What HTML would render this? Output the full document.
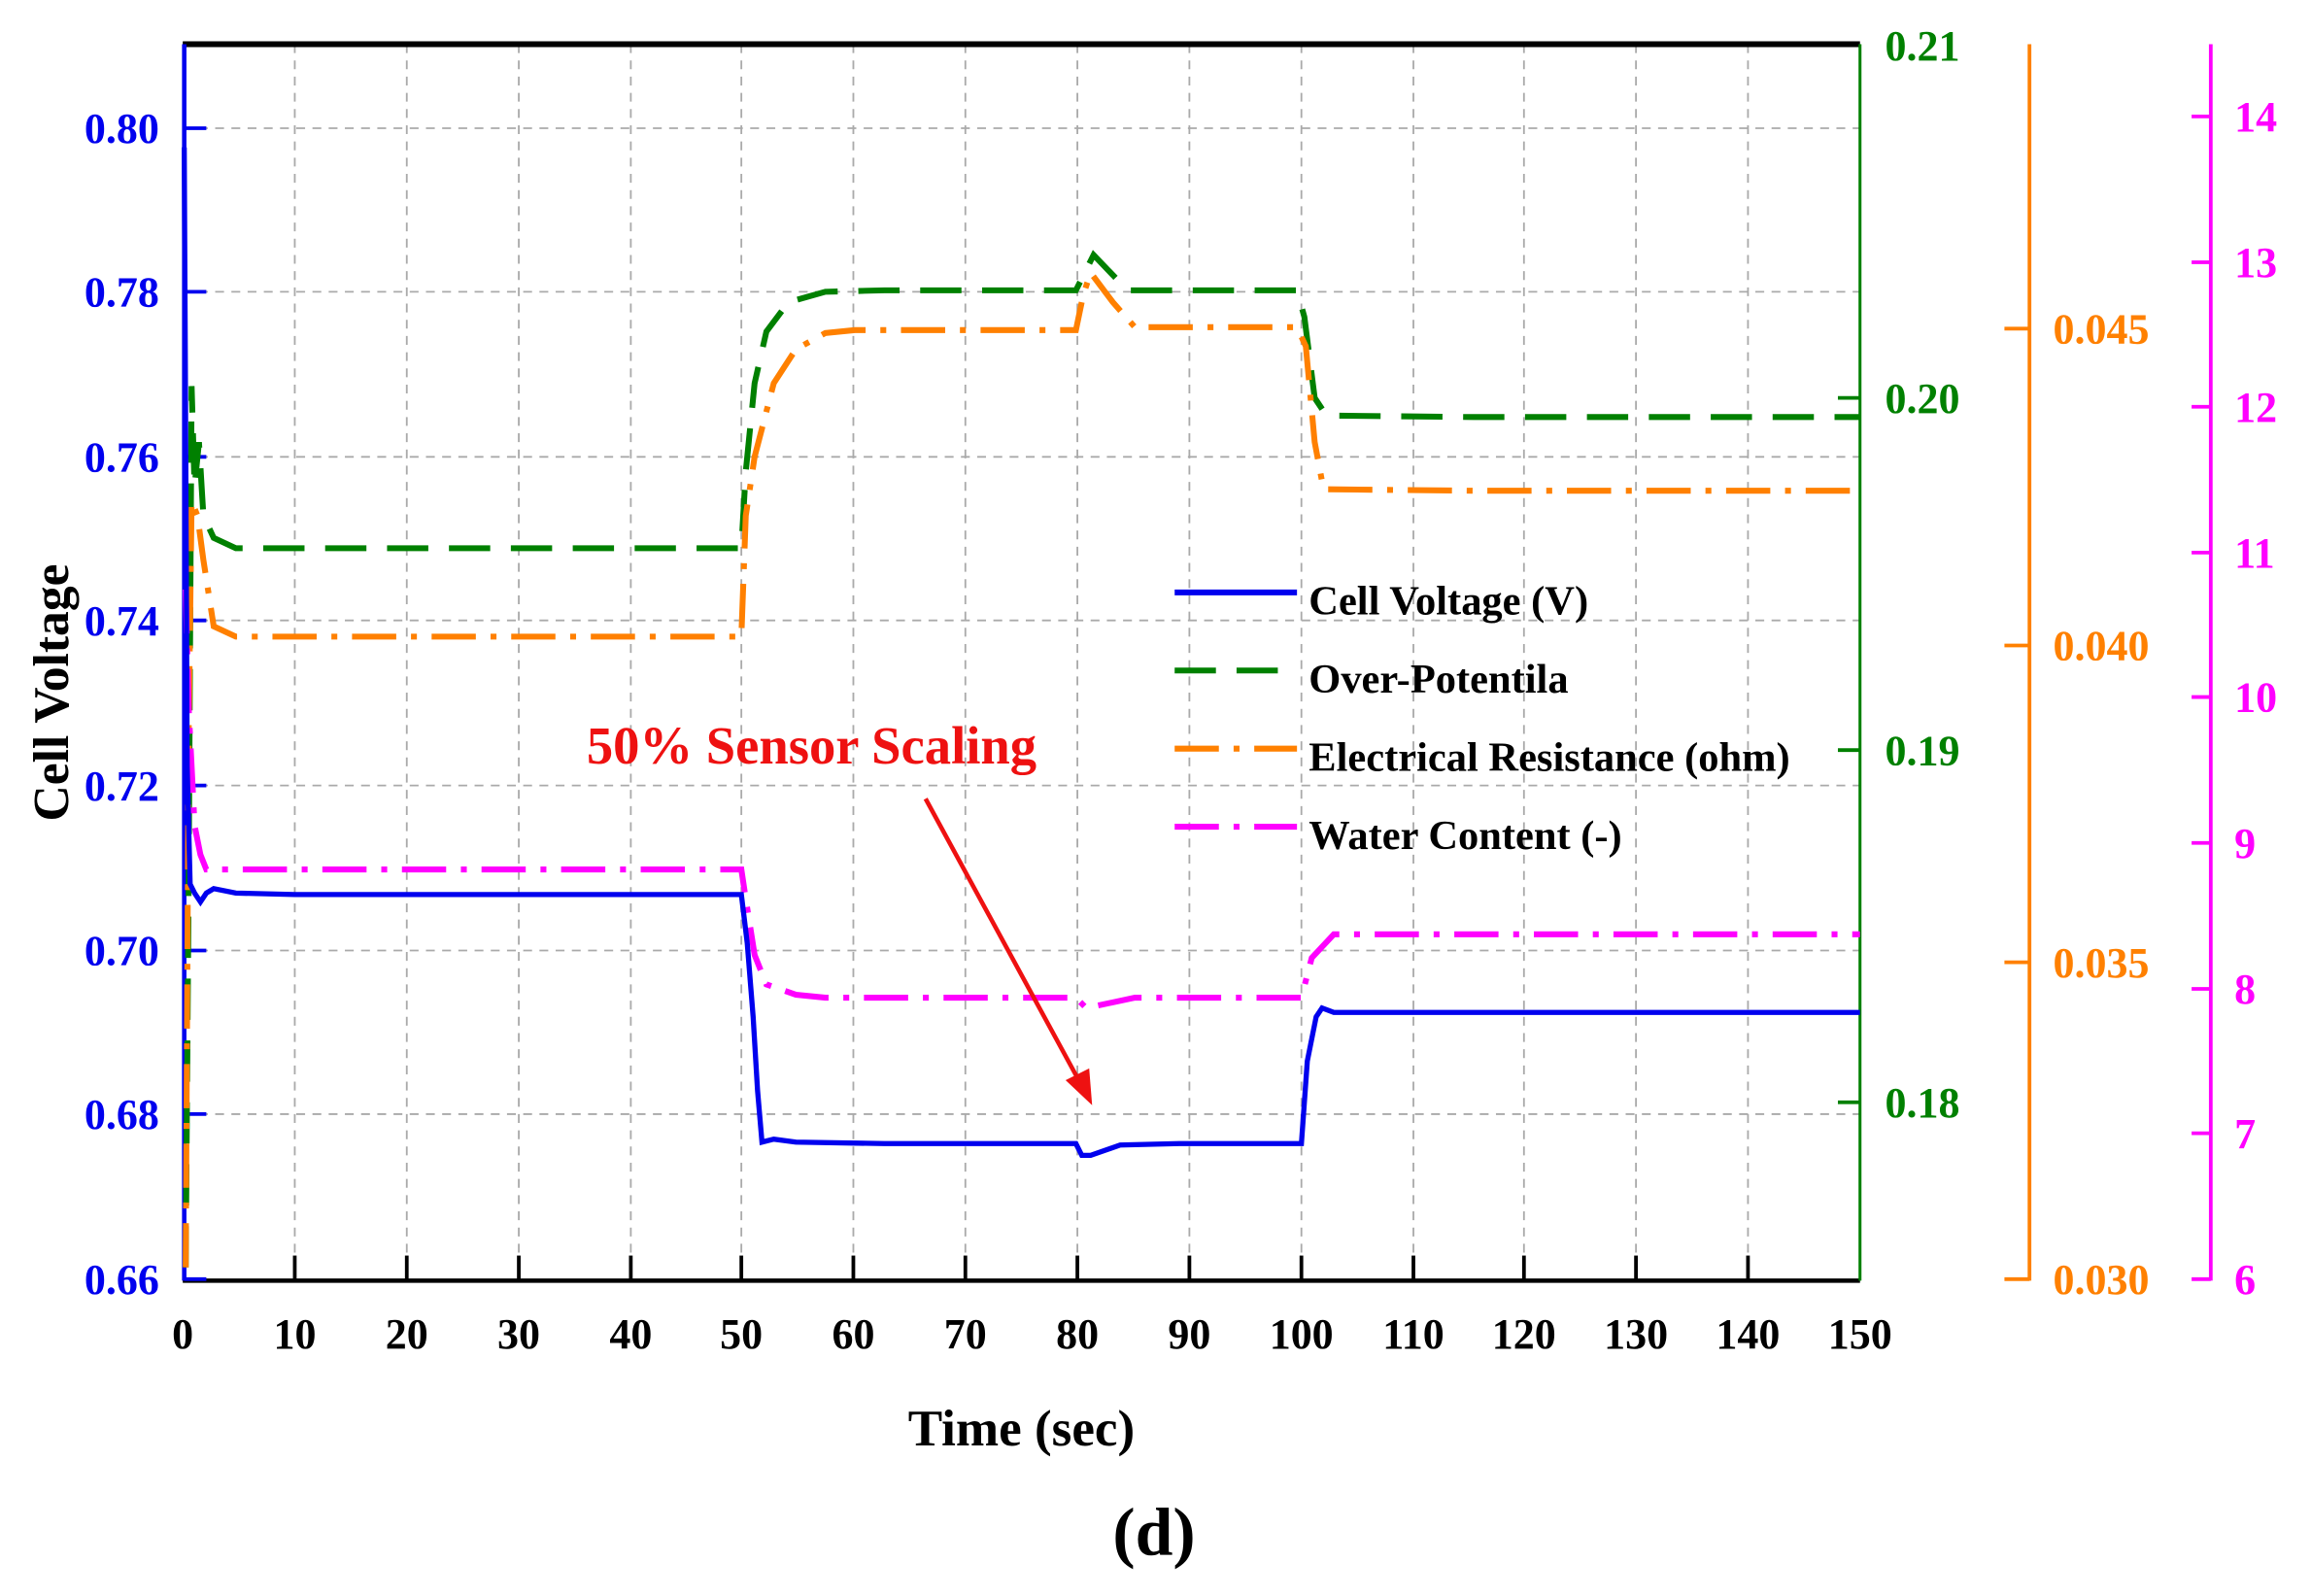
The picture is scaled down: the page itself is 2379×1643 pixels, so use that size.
<!DOCTYPE html>
<html><head><meta charset="utf-8"><style>html,body{margin:0;padding:0;background:#fff}svg{display:block}</style></head>
<body>
<svg width="2379" height="1643" viewBox="0 0 1568 1083" preserveAspectRatio="none" xmlns="http://www.w3.org/2000/svg" font-family="Liberation Serif, serif" font-weight="bold">
<rect width="1568" height="1083" fill="#fff"/>
<g stroke="#aaa" stroke-width="1.2" stroke-dasharray="6,5">
<line x1="200" y1="30" x2="200" y2="868"/><line x1="276" y1="30" x2="276" y2="868"/><line x1="352" y1="30" x2="352" y2="868"/><line x1="428" y1="30" x2="428" y2="868"/><line x1="503" y1="30" x2="503" y2="868"/><line x1="579" y1="30" x2="579" y2="868"/><line x1="655" y1="30" x2="655" y2="868"/><line x1="731" y1="30" x2="731" y2="868"/><line x1="807" y1="30" x2="807" y2="868"/><line x1="883" y1="30" x2="883" y2="868"/><line x1="959" y1="30" x2="959" y2="868"/><line x1="1034" y1="30" x2="1034" y2="868"/><line x1="1110" y1="30" x2="1110" y2="868"/><line x1="1186" y1="30" x2="1186" y2="868"/>
<line x1="124" y1="87" x2="1262" y2="87"/><line x1="124" y1="198" x2="1262" y2="198"/><line x1="124" y1="310" x2="1262" y2="310"/><line x1="124" y1="421" x2="1262" y2="421"/><line x1="124" y1="533" x2="1262" y2="533"/><line x1="124" y1="645" x2="1262" y2="645"/><line x1="124" y1="756" x2="1262" y2="756"/>
</g>
<line x1="124" y1="30" x2="1262" y2="30" stroke="#000" stroke-width="4"/>
<line x1="124" y1="869" x2="1262" y2="869" stroke="#000" stroke-width="3"/>
<line x1="125" y1="30" x2="125" y2="869" stroke="#0000ee" stroke-width="3"/>
<line x1="1262" y1="30" x2="1262" y2="869" stroke="#008000" stroke-width="2"/>
<g stroke="#000" stroke-width="2.5">
<line x1="200" y1="852" x2="200" y2="869"/><line x1="276" y1="852" x2="276" y2="869"/><line x1="352" y1="852" x2="352" y2="869"/><line x1="428" y1="852" x2="428" y2="869"/><line x1="503" y1="852" x2="503" y2="869"/><line x1="579" y1="852" x2="579" y2="869"/><line x1="655" y1="852" x2="655" y2="869"/><line x1="731" y1="852" x2="731" y2="869"/><line x1="807" y1="852" x2="807" y2="869"/><line x1="883" y1="852" x2="883" y2="869"/><line x1="959" y1="852" x2="959" y2="869"/><line x1="1034" y1="852" x2="1034" y2="869"/><line x1="1110" y1="852" x2="1110" y2="869"/><line x1="1186" y1="852" x2="1186" y2="869"/>
</g>
<g font-size="29" text-anchor="middle" fill="#000">
<text x="124" y="915">0</text><text x="200" y="915">10</text><text x="276" y="915">20</text><text x="352" y="915">30</text><text x="428" y="915">40</text><text x="503" y="915">50</text><text x="579" y="915">60</text><text x="655" y="915">70</text><text x="731" y="915">80</text><text x="807" y="915">90</text><text x="883" y="915">100</text><text x="959" y="915">110</text><text x="1034" y="915">120</text><text x="1110" y="915">130</text><text x="1186" y="915">140</text><text x="1262" y="915">150</text>
</g>
<g stroke="#0000ee" stroke-width="2.5">
<line x1="125" y1="87" x2="140" y2="87"/><line x1="125" y1="198" x2="140" y2="198"/><line x1="125" y1="310" x2="140" y2="310"/><line x1="125" y1="421" x2="140" y2="421"/><line x1="125" y1="533" x2="140" y2="533"/><line x1="125" y1="645" x2="140" y2="645"/><line x1="125" y1="756" x2="140" y2="756"/><line x1="125" y1="868" x2="140" y2="868"/>
</g>
<g font-size="29" text-anchor="end" fill="#0000ee">
<text x="108" y="97">0.80</text><text x="108" y="208">0.78</text><text x="108" y="320">0.76</text><text x="108" y="431">0.74</text><text x="108" y="543">0.72</text><text x="108" y="655">0.70</text><text x="108" y="766">0.68</text><text x="108" y="878">0.66</text>
</g>
<g stroke="#008000" stroke-width="2.5">
<line x1="1247" y1="270" x2="1262" y2="270"/><line x1="1247" y1="509" x2="1262" y2="509"/><line x1="1247" y1="748" x2="1262" y2="748"/>
</g>
<g font-size="29" fill="#008000">
<text x="1279" y="41">0.21</text><text x="1279" y="280">0.20</text><text x="1279" y="519">0.19</text><text x="1279" y="758">0.18</text>
</g>
<line x1="1377" y1="30" x2="1377" y2="869" stroke="#ff8000" stroke-width="2.5"/>
<g stroke="#ff8000" stroke-width="2.5">
<line x1="1360" y1="223" x2="1377" y2="223"/><line x1="1360" y1="438" x2="1377" y2="438"/><line x1="1360" y1="653" x2="1377" y2="653"/><line x1="1360" y1="868" x2="1377" y2="868"/>
</g>
<g font-size="29" fill="#ff8000">
<text x="1393" y="233">0.045</text><text x="1393" y="448">0.040</text><text x="1393" y="663">0.035</text><text x="1393" y="878">0.030</text>
</g>
<line x1="1500" y1="30" x2="1500" y2="869" stroke="#ff00ff" stroke-width="2.5"/>
<g stroke="#ff00ff" stroke-width="2.5">
<line x1="1487" y1="79" x2="1500" y2="79"/><line x1="1487" y1="178" x2="1500" y2="178"/><line x1="1487" y1="276" x2="1500" y2="276"/><line x1="1487" y1="375" x2="1500" y2="375"/><line x1="1487" y1="473" x2="1500" y2="473"/><line x1="1487" y1="572" x2="1500" y2="572"/><line x1="1487" y1="671" x2="1500" y2="671"/><line x1="1487" y1="769" x2="1500" y2="769"/><line x1="1487" y1="868" x2="1500" y2="868"/>
</g>
<g font-size="29" fill="#ff00ff">
<text x="1516" y="89">14</text><text x="1516" y="188">13</text><text x="1516" y="286">12</text><text x="1516" y="385">11</text><text x="1516" y="483">10</text><text x="1516" y="582">9</text><text x="1516" y="681">8</text><text x="1516" y="779">7</text><text x="1516" y="878">6</text>
</g>
<polyline fill="none" stroke="#008000" stroke-width="4" stroke-dasharray="28,14" points="126,860 128,600 130,262 132,330 135,300 138,350 145,365 160,372 200,372 503,372 506,320 512,260 520,225 535,205 560,198 600,197 730,197 742,173 765,197 880,197 885,215 892,270 900,282 1000,283 1262,283"/>
<polyline fill="none" stroke="#ff8000" stroke-width="4" stroke-dasharray="30,10,4,10" points="126,860 128,500 130,340 134,350 138,380 145,425 160,432 200,432 503,432 506,350 512,310 525,260 540,237 560,226 580,224 730,224 735,200 740,185 755,205 770,222 880,222 886,235 892,300 898,332 1000,333 1262,333"/>
<polyline fill="none" stroke="#ff00ff" stroke-width="4" stroke-dasharray="30,10,4,10" points="126,400 128,480 132,560 136,580 140,590 200,590 503,590 506,610 512,648 520,668 540,675 560,677 730,677 737,684 770,677 883,677 890,650 905,634 1000,634 1262,634"/>
<polyline fill="none" stroke="#0000ee" stroke-width="3.5" points="125,100 126,300 127,520 129,600 132,606 136,612 140,606 145,603 160,606 200,607 503,607 507,640 511,690 514,740 517,775 525,773 540,775 600,776 730,776 734,784 740,784 760,777 800,776 883,776 887,720 893,690 897,684 905,687 1262,687"/>
<line x1="797" y1="402" x2="880" y2="402" stroke="#0000ee" stroke-width="4"/>
<line x1="797" y1="455" x2="880" y2="455" stroke="#008000" stroke-width="4" stroke-dasharray="28,14"/>
<line x1="797" y1="508" x2="880" y2="508" stroke="#ff8000" stroke-width="4" stroke-dasharray="30,10,4,10"/>
<line x1="797" y1="561" x2="880" y2="561" stroke="#ff00ff" stroke-width="4" stroke-dasharray="30,10,4,10"/>
<g font-size="28" fill="#000">
<text x="888" y="417">Cell Voltage (V)</text><text x="888" y="470">Over-Potentila</text><text x="888" y="523">Electrical Resistance (ohm)</text><text x="888" y="576">Water Content (-)</text>
</g>
<text x="398" y="518" font-size="36" fill="#ee1111">50% Sensor Scaling</text>
<line x1="628" y1="542" x2="733" y2="735" stroke="#ee1111" stroke-width="3"/>
<polygon points="741,750 723,733 739,725" fill="#ee1111"/>
<text x="693" y="981" font-size="35" text-anchor="middle" fill="#000">Time (sec)</text>
<text transform="translate(46,470) rotate(-90)" font-size="34" text-anchor="middle" fill="#000">Cell Voltage</text>
<text x="783" y="1055" font-size="46" text-anchor="middle" fill="#000">(d)</text>
</svg>
</body></html>
